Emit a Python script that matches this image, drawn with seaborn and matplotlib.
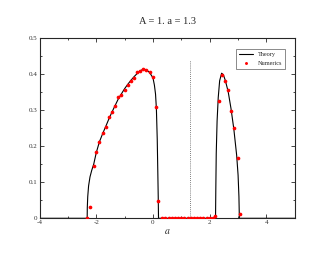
import numpy as np
import pandas as pd
import matplotlib
matplotlib.use("Agg")
import matplotlib.pyplot as plt
from matplotlib.ticker import MultipleLocator, FuncFormatter
import seaborn as sns

# curva teórica
theory_x = [-4.0, -2.32, -2.315, -2.30, -2.27, -2.22, -2.16, -2.09, -2.0, -1.89, -1.77,
            -1.66, -1.55, -1.44, -1.33, -1.22, -1.11, -1.0, -0.89, -0.78, -0.67,
            -0.56, -0.45, -0.34, -0.24, -0.12, 0.0, 0.05, 0.09, 0.12, 0.15, 0.17,
            0.185, 0.195, 2.205, 2.215, 2.23, 2.26, 2.30, 2.35, 2.42, 2.48, 2.55,
            2.65, 2.75, 2.85, 2.95, 3.0, 3.03, 3.045, 5.0]
theory_y = [0.0, 0.0, 0.03, 0.06, 0.09, 0.115, 0.133, 0.150, 0.182, 0.212, 0.236,
            0.256, 0.277, 0.296, 0.314, 0.332, 0.346, 0.360, 0.372, 0.383, 0.393,
            0.402, 0.410, 0.414, 0.413, 0.405, 0.39, 0.37, 0.345, 0.305, 0.22, 0.13,
            0.06, 0.0, 0.0, 0.08, 0.18, 0.27, 0.335, 0.382, 0.403, 0.399, 0.383,
            0.352, 0.305, 0.248, 0.175, 0.12, 0.06, 0.0, 0.0]

# pontos numéricos
num_x = [-2.33, -2.22, -2.09, -2.0, -1.89, -1.77, -1.66, -1.55, -1.44, -1.33,
         -1.22, -1.11, -1.0, -0.89, -0.78, -0.67, -0.56, -0.45, -0.34, -0.24,
         -0.12, -0.01, 0.11, 0.19,
         0.33, 0.44, 0.56, 0.67, 0.78, 0.89, 1.0, 1.11, 1.22, 1.33, 1.44, 1.56,
         1.67, 1.78, 1.89, 2.0, 2.11,
         2.2, 2.31, 2.42, 2.53, 2.65, 2.75, 2.87, 2.99, 3.08]
num_y = [0.0, 0.032, 0.146, 0.185, 0.213, 0.238, 0.253, 0.281, 0.295, 0.311,
         0.337, 0.343, 0.355, 0.37, 0.38, 0.39, 0.405, 0.409, 0.416, 0.412,
         0.407, 0.393, 0.31, 0.047,
         0.0, 0.0, 0.0, 0.0, 0.0, 0.0, 0.0, 0.0, 0.0, 0.0, 0.0, 0.0,
         0.0, 0.0, 0.0, 0.0, 0.0,
         0.006, 0.327, 0.398, 0.38, 0.355, 0.299, 0.25, 0.168, 0.011]

a_value = 1.3
dotted_top = 0.44

sns.set_style("ticks")
plt.rcParams["font.family"] = ["Liberation Serif", "DejaVu Serif"]
plt.rcParams["mathtext.fontset"] = "stix"

fig = plt.figure(figsize=(3.32, 2.57), dpi=100)
ax = fig.add_axes([0.119, 0.1506, 0.769, 0.7004])

teoria = pd.DataFrame({"x": theory_x, "y": theory_y})
numeros = pd.DataFrame({"x": num_x, "y": num_y})

sns.lineplot(data=teoria, x="x", y="y", ax=ax, color="black", lw=0.8,
             sort=False, estimator=None, label="Theory")
sns.scatterplot(data=numeros, x="x", y="y", ax=ax, color="red", s=7,
                linewidth=0, label="Numerics", zorder=3)
ax.plot([a_value, a_value], [0, dotted_top], color="#555555", ls=(0, (1, 1.5)), lw=0.6)

ax.set_xlim(-4, 5)
ax.set_ylim(0, 0.5)
ax.xaxis.set_major_locator(MultipleLocator(2))
ax.xaxis.set_minor_locator(MultipleLocator(1))
ax.yaxis.set_major_locator(MultipleLocator(0.1))
ax.yaxis.set_minor_locator(MultipleLocator(0.05))
ax.yaxis.set_major_formatter(FuncFormatter(lambda v, p: "0" if abs(v) < 1e-9 else f"{v:.1f}"))
ax.xaxis.set_major_formatter(FuncFormatter(lambda v, p: f"{v:.0f}"))
ax.tick_params(which="both", direction="in", top=True, right=True,
               labelsize=5, labelcolor="#333333", width=0.6, pad=1.5)
ax.tick_params(which="major", length=3)
ax.tick_params(which="minor", length=1.5)
for s in ax.spines.values():
    s.set_linewidth(0.8)

ax.set_xlabel("$a$", fontsize=7, labelpad=1.5)
ax.set_ylabel("")
ax.set_title("A = 1. a = 1.3", fontsize=7.5, pad=10)

leg = ax.legend(loc="upper right", bbox_to_anchor=(0.975, 0.96), fontsize=4.5,
                frameon=True, fancybox=False, edgecolor="#555555",
                handlelength=2.2, borderpad=0.5, labelspacing=0.5, markerscale=0.8)
leg.get_frame().set_linewidth(0.6)

fig.savefig("out.png", dpi=100)
